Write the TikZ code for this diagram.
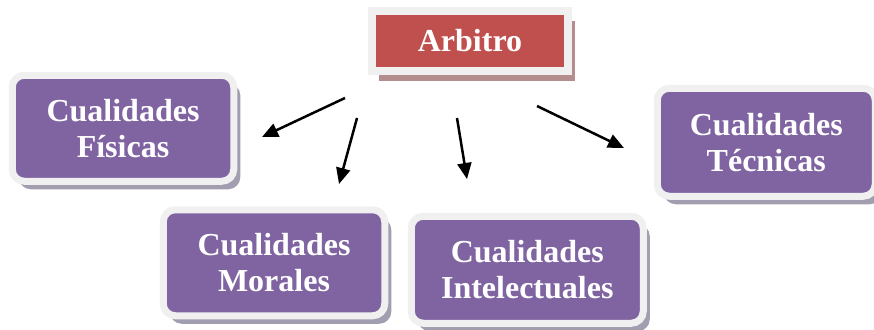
\documentclass[tikz,border=0pt]{standalone}
\usepackage{fontspec}
\setmainfont{Liberation Serif}
\usetikzlibrary{positioning,shadows,arrows.meta}
\definecolor{cualpurple}{HTML}{8064A2}
\definecolor{arbred}{HTML}{C0504D}
\definecolor{framegray}{HTML}{F0F0F0}
\definecolor{shadepurple}{HTML}{A39DB0}
\definecolor{shadered}{HTML}{B48E8E}

\begin{document}
\begin{tikzpicture}[x=1pt,y=-1pt,
        qual/.style={rectangle,rounded corners=12pt,fill=cualpurple,draw=framegray,line width=7pt,
          minimum width=221.5pt,minimum height=106pt,inner sep=0pt,outer sep=0pt,align=center,text=white,
          font=\fontsize{32}{36}\selectfont\bfseries,
          drop shadow={shadow xshift=6.5pt,shadow yshift=-8pt,fill=shadepurple,opacity=1}},
        arbbox/.style={rectangle,fill=arbred,draw=framegray,line width=8pt,
          minimum width=195.5pt,minimum height=59.5pt,inner sep=0pt,outer sep=0pt,text=white,
          font=\fontsize{32}{36}\selectfont\bfseries,
          drop shadow={shadow xshift=7pt,shadow yshift=-10pt,fill=shadered,opacity=1}},
        arrow/.style={-{Triangle[length=16pt,width=14pt]},line width=2.5pt}]
   \useasboundingbox (0,0) rectangle (874,329);

   \node[arbbox] (arb) at (470,41) {Arbitro};
   \node[qual] (fis) [below left=4.5pt and 138.5pt of arb] {Cualidades\\F\'isicas};
   \node[qual] (mor) [below=28.5pt of fis, xshift=151pt] {Cualidades\\Morales};
   \node[qual,minimum width=232pt,minimum height=107pt] (int) [right=26.5pt of mor, yshift=-7pt] {Cualidades\\Intelectuales};
   \node[qual,minimum width=218pt,minimum height=108pt] (tec) [below right=17.5pt and 89.5pt of arb] {Cualidades\\T\'ecnicas};

   % arrow ends
   \coordinate (fisA) at (345,98);  \coordinate (fisB) at (262,137);
   \coordinate (morA) at (357,118); \coordinate (morB) at (339,184);
   \coordinate (intA) at (457,118); \coordinate (intB) at (467,179);
   \coordinate (tecA) at (537,106); \coordinate (tecB) at (624,148);

   \draw[arrow] (fisA) -- (fisB);
   \draw[arrow] (morA) -- (morB);
   \draw[arrow] (intA) -- (intB);
   \draw[arrow] (tecA) -- (tecB);
\end{tikzpicture}
\end{document}
